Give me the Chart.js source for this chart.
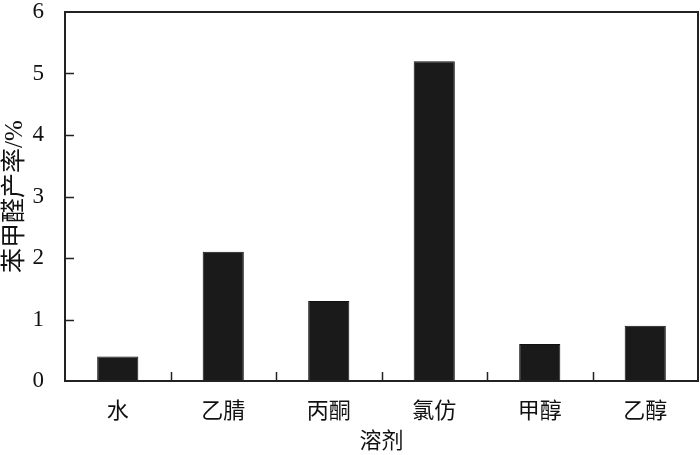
<!DOCTYPE html>
<html>
<head>
<meta charset="utf-8">
<script src="https://cdn.jsdelivr.net/npm/chart.js@4/dist/chart.umd.min.js"></script>
<style>
  html, body { margin: 0; padding: 0; background: #fff; }
  #wrap { width: 700px; height: 455px; }
</style>
</head>
<body>
<div id="wrap"><canvas id="myBarChart" width="700" height="455"></canvas></div>
<script>
// DATA
const solvents = ['水', '乙腈', '丙酮', '氯仿', '甲醇', '乙醇'];
const yieldValues = [0.4, 2.1, 1.3, 5.2, 0.6, 0.9];
const yTicks = [0, 1, 2, 3, 4, 5, 6];

const serif = '"Liberation Serif", "Noto Sans CJK SC", serif';

// frame + inward ticks
const framePlugin = {
  id: 'frame',
  afterDraw(chart) {
    const ctx = chart.ctx;
    const a = chart.chartArea;
    const x = chart.scales.x;
    const y = chart.scales.y;
    ctx.save();
    ctx.strokeStyle = '#222';
    ctx.lineWidth = 2;
    ctx.strokeRect(a.left, a.top, a.right - a.left, a.bottom - a.top);
    ctx.lineWidth = 1.5;
    ctx.beginPath();
    yTicks.forEach(v => {
      if (v === 0 || v === 6) return;
      const py = Math.round(y.getPixelForValue(v)) + 0.5;
      ctx.moveTo(a.left, py);
      ctx.lineTo(a.left + 9, py);
    });
    for (let i = 1; i < solvents.length; i++) {
      const px = Math.round((x.getPixelForValue(i - 1) + x.getPixelForValue(i)) / 2) + 0.5;
      ctx.moveTo(px, a.bottom);
      ctx.lineTo(px, a.bottom - 9);
    }
    ctx.stroke();
    ctx.restore();
  }
};

const dataBar = {
  labels: solvents,
  datasets: [{
    label: '苯甲醛产率',
    data: yieldValues,
    backgroundColor: '#1a1a1a',
    borderColor: '#111',
    borderWidth: 1,
    barPercentage: 0.39,
    categoryPercentage: 1
  }]
};

const configBar = {
  type: 'bar',
  data: dataBar,
  options: {
    responsive: false,
    animation: false,
    layout: { padding: { top: 12, right: 2, left: 0, bottom: 0 } },
    plugins: {
      legend: { display: false },
      tooltip: { enabled: false }
    },
    scales: {
      x: {
        grid: { display: false },
        border: { display: false },
        ticks: {
          color: '#111',
          font: { family: serif, size: 22 },
          padding: 10
        },
        title: {
          display: true,
          text: '溶剂',
          color: '#111',
          font: { family: serif, size: 22 },
          padding: { top: 2, bottom: 0 }
        },
        afterFit(scale) {
          scale.height = 74;
          scale.paddingLeft = 0;
          scale.paddingRight = 0;
        }
      },
      y: {
        min: 0,
        max: 6,
        grid: { display: false },
        border: { display: false },
        afterBuildTicks(scale) { scale.ticks = yTicks.map(v => ({ value: v })); },
        ticks: {
          color: '#111',
          font: { family: serif, size: 23 },
          padding: 13
        },
        title: {
          display: true,
          text: '苯甲醛产率/%',
          color: '#111',
          font: { family: serif, size: 25 },
          padding: { top: 0, bottom: 2 }
        },
        afterFit(scale) {
          scale.width = 65;
          scale.paddingTop = 0;
          scale.paddingBottom = 0;
        }
      }
    }
  },
  plugins: [framePlugin]
};

const myBarChart = new Chart(document.getElementById('myBarChart'), configBar);
</script>
</body>
</html>
